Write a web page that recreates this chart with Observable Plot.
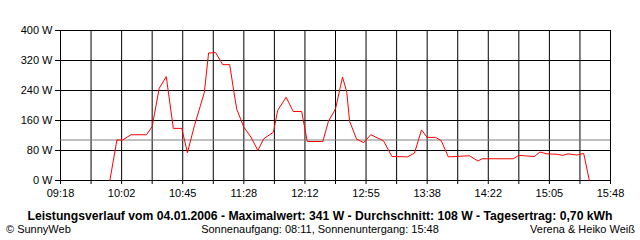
<!DOCTYPE html>
<html>
<head>
<meta charset="utf-8">
<script src="https://cdn.jsdelivr.net/npm/d3@7"></script>
<script src="https://cdn.jsdelivr.net/npm/@observablehq/plot@0.6"></script>
<style>
  html, body { margin: 0; padding: 0; background: #fff; }
  svg { display: block; }
</style>
</head>
<body>
<div id="chart"></div>
<script>
// ---- data ----
const times = ["9:53","9:58","10:02","10:08","10:19","10:23","10:28","10:33","10:38","10:44",
  "10:48","10:53","10:57","11:00","11:03","11:08","11:13","11:18","11:21","11:23",
  "11:28","11:33","11:38","11:42","11:49","11:52","11:58","12:03","12:09","12:13",
  "12:24","12:28","12:33","12:38","12:41","12:43","12:48","12:53","12:58","13:07",
  "13:13","13:24","13:29","13:34","13:38","13:44","13:48","13:53","14:08","14:14",
  "14:17","14:39","14:43","14:54","14:58","15:03","15:10","15:14","15:18","15:24",
  "15:29","15:33"];
const watts = [0,108,108,122,122,144,246,277,139,139,
  74,147,197,235,340,341,309,309,235,190,
  142,116,80,111,129,187,222,184,184,104,
  104,158,191,276,235,158,110,101,122,106,
  64,63,73,135,115,115,106,63,66,52,
  58,58,67,64,76,71,70,67,71,68,
  72,0];
const xTickLabels = ["09:18","10:02","10:45","11:28","12:12","12:55","13:38","14:22","15:05","15:48"];
const yTicks = [0, 80, 160, 240, 320, 400];
const average = 108;
const titleText = "Leistungsverlauf vom 04.01.2006 - Maximalwert: 341 W - Durchschnitt: 108 W - Tagesertrag: 0,70 kWh";
const leftFooter = "\u00A9 SunnyWeb";
const centerFooter = "Sonnenaufgang: 08:11, Sonnenuntergang: 15:48";
const rightFooter = "Verena & Heiko Wei\u00DF";

// ---- derived ----
const toMin = s => { const [h, m] = s.split(":").map(Number); return h * 60 + m; };
const data = times.map((t, i) => ({ t: toMin(t), w: watts[i] }));
const xStart = toMin(xTickLabels[0]);
const xEnd = toMin(xTickLabels[xTickLabels.length - 1]);
const nGrid = (xTickLabels.length - 1) * 2;
const gridX = d3.range(nGrid + 1).map(i => xStart + i * (xEnd - xStart) / nGrid);
const labelOf = v => {
  const i = gridX.findIndex(g => Math.abs(g - v) < 1e-6);
  return i % 2 === 0 ? xTickLabels[i / 2] : "";
};

const font = "'Liberation Sans', Arial, sans-serif";

const plot = Plot.plot({
  width: 640,
  height: 240,
  marginLeft: 60,
  marginRight: 30,
  marginTop: 30,
  marginBottom: 60,
  style: { fontFamily: font, fontSize: "11px", color: "#000", background: "#fff" },
  x: { domain: [xStart, xEnd] },
  y: { domain: [0, 400] },
  marks: [
    Plot.gridX(gridX, { stroke: "#000", strokeOpacity: 1 }),
    Plot.gridY(yTicks, { stroke: "#000", strokeOpacity: 1 }),
    Plot.axisX(gridX, { tickSize: 4, tickPadding: 5, tickFormat: labelOf, label: null, stroke: "#000", fill: "#000" }),
    Plot.axisY(yTicks, { tickSize: 5, tickPadding: 3, tickFormat: d => d + " W", label: null, stroke: "#000", fill: "#000" }),
    Plot.ruleY([average], { stroke: "#808080" }),
    Plot.line(data, { x: "t", y: "w", stroke: "#ff0000", strokeWidth: 1 })
  ]
});

const svg = d3.select(plot);
svg.append("text")
  .attr("x", 320).attr("y", 220)
  .attr("text-anchor", "middle")
  .attr("font-family", font).attr("font-size", 12).attr("font-weight", "bold")
  .attr("textLength", 585).attr("lengthAdjust", "spacingAndGlyphs")
  .attr("fill", "#000")
  .text(titleText);
svg.append("text")
  .attr("x", 6).attr("y", 233)
  .attr("text-anchor", "start")
  .attr("font-family", font).attr("font-size", 11)
  .attr("fill", "#000")
  .text(leftFooter);
svg.append("text")
  .attr("x", 320).attr("y", 233)
  .attr("text-anchor", "middle")
  .attr("font-family", font).attr("font-size", 11)
  .attr("fill", "#000")
  .text(centerFooter);
svg.append("text")
  .attr("x", 635).attr("y", 233)
  .attr("text-anchor", "end")
  .attr("font-family", font).attr("font-size", 11)
  .attr("fill", "#000")
  .text(rightFooter);

document.getElementById("chart").appendChild(plot);
</script>
</body>
</html>
